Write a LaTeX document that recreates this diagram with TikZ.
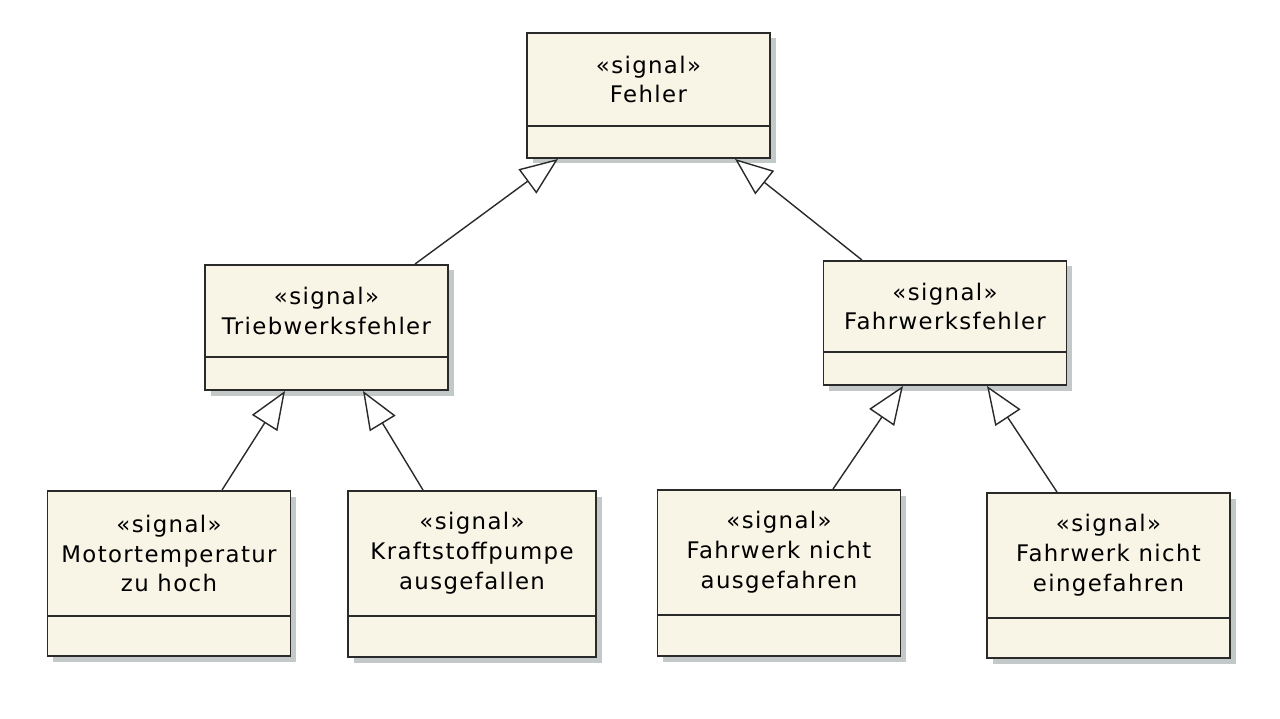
\documentclass[tikz,border=0pt]{standalone}
\usepackage{fontspec}
\newfontfamily\umlfont[LetterSpace=6]{DejaVu Sans}
\usepackage{tikz}
\usetikzlibrary{
  positioning,
  arrows.meta,
  shadows
}
\usepackage{xcolor}
\definecolor{umlfill}{HTML}{F8F4E6}
\definecolor{umlline}{HTML}{2A2A2A}
\definecolor{umlshade}{HTML}{B4BCBC}

\newcommand{\stereo}{«signal»}

\begin{document}
\begin{tikzpicture}[
  cname/.style={draw=umlline, fill=umlfill, line width=1.1pt, minimum width=4.86cm,
                inner sep=0pt, align=center,
                font=\umlfont\fontsize{13}{17}\selectfont,
                drop shadow={shadow xshift=0.11cm, shadow yshift=-0.11cm,
                             fill=umlshade, opacity=0.8}},
  cattr/.style={draw=umlline, fill=umlfill, line width=1.1pt, minimum width=4.86cm,
                inner sep=0pt, below=-1.1pt of #1,
                drop shadow={shadow xshift=0.11cm, shadow yshift=-0.11cm,
                             fill=umlshade, opacity=0.8}},
  gen/.style={-{Triangle[fill=white, length=0.76cm, width=0.6cm]},
              draw=umlline, line width=0.8pt},
]
  \useasboundingbox (0,0) rectangle (25.6,-14.38);

  % Top signal
  \node[cname, minimum height=1.86cm] (fehler) at (12.97,-1.59) {\stereo\\Fehler};
  \node[cattr=fehler, minimum height=0.64cm] (fehler-attr) {};

  % Second level
  \node[cname, minimum height=1.84cm] (trieb) at (6.53,-6.22) {\stereo\\Triebwerksfehler};
  \node[cattr=trieb, minimum height=0.66cm] (trieb-attr) {};
  \node[cname, minimum height=1.82cm] (fahr) at (18.9,-6.13) {\stereo\\Fahrwerksfehler};
  \node[cattr=fahr, minimum height=0.66cm] (fahr-attr) {};

  % Leaf signals
  \node[cname, minimum height=2.5cm] (motor) at (3.38,-11.07) {\stereo\\Motortemperatur\\zu hoch};
  \node[cattr=motor, minimum height=0.8cm] (motor-attr) {};
  \node[cname, minimum height=2.5cm, minimum width=4.96cm] (kraft) at (9.44,-11.07) {\stereo\\Kraftstoffpumpe\\ausgefallen};
  \node[cattr=kraft, minimum height=0.82cm, minimum width=4.96cm] (kraft-attr) {};
  \node[cname, minimum height=2.5cm] (ausg) at (15.58,-11.05) {\stereo\\Fahrwerk nicht\\ausgefahren};
  \node[cattr=ausg, minimum height=0.82cm] (ausg-attr) {};
  \node[cname, minimum height=2.5cm] (eing) at (22.17,-11.11) {\stereo\\Fahrwerk nicht\\eingefahren};
  \node[cattr=eing, minimum height=0.8cm] (eing-attr) {};

  % Generalizations
  \draw[gen] ([xshift=1.77cm]trieb.north) -- ([xshift=-1.81cm]fehler-attr.south);
  \draw[gen] ([xshift=-1.66cm]fahr.north) -- ([xshift=1.73cm]fehler-attr.south);
  \draw[gen] ([xshift=1.06cm]motor.north) -- ([xshift=-0.83cm]trieb-attr.south);
  \draw[gen] ([xshift=-0.98cm]kraft.north) -- ([xshift=0.73cm]trieb-attr.south);
  \draw[gen] ([xshift=1.08cm]ausg.north) -- ([xshift=-0.84cm]fahr-attr.south);
  \draw[gen] ([xshift=-1.03cm]eing.north) -- ([xshift=0.84cm]fahr-attr.south);
\end{tikzpicture}
\end{document}
